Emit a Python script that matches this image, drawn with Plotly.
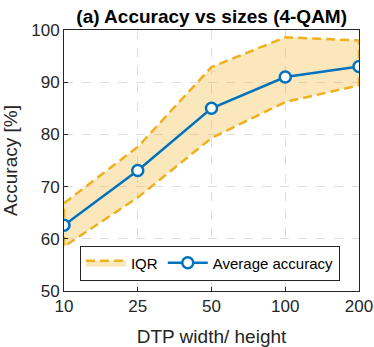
import plotly.graph_objects as go

# DTP sizes and accuracy stats
sizes = ["10", "25", "50", "100", "200"]
avg_acc = [62.6, 73.1, 85.0, 91.0, 93.0]
q75_acc = [66.8, 77.6, 92.9, 98.6, 98.0]
q25_acc = [58.5, 67.9, 79.3, 86.2, 89.4]

blue = "#0072BD"
orange = "#EDB120"
font_family = "Liberation Sans, Arial, sans-serif"

fig = go.Figure()

# IQR band as closed polygon
fig.add_trace(go.Scatter(
    x=sizes + sizes[::-1] + [sizes[0]],
    y=q75_acc + q25_acc[::-1] + [q75_acc[0]],
    fill="toself",
    fillcolor="rgba(237,177,32,0.3)",
    line=dict(color=orange, width=2.5, dash="9px,5px"),
    mode="lines",
    name="IQR",
))

fig.add_trace(go.Scatter(
    x=sizes,
    y=avg_acc,
    mode="lines+markers",
    line=dict(color=blue, width=2.5),
    marker=dict(size=11, color="white", line=dict(color=blue, width=2.5)),
    name="Average accuracy",
))

fig.update_layout(
    width=374,
    height=347,
    margin=dict(l=64, r=15, t=30, b=56),
    paper_bgcolor="white",
    plot_bgcolor="white",
    title=dict(
        text="<b>(a) Accuracy vs sizes (4-QAM)</b>",
        x=0.566, xanchor="center", y=0.952, yanchor="middle",
        font=dict(family=font_family, size=19, color="black"),
    ),
    font=dict(family=font_family, size=17, color="#262626"),
    legend=dict(
        orientation="h",
        x=0.054, xanchor="left",
        y=0.04, yanchor="bottom",
        bgcolor="white",
        bordercolor="#262626",
        borderwidth=1,
        font=dict(size=15, color="black"),
        itemwidth=40,
        tracegroupgap=0,
    ),
)

fig.update_xaxes(
    type="category",
    range=[0, 4],
    title=dict(text="DTP width/ height", font=dict(size=19)),
    automargin=False,
    showgrid=True, gridcolor="#DEDEDE", griddash="dash",
    showline=True, linecolor="#262626", linewidth=1, mirror=True,
    ticks="inside", ticklen=4, tickcolor="#262626",
    zeroline=False,
)
fig.update_yaxes(
    range=[50, 100],
    tickvals=[50, 60, 70, 80, 90, 100],
    title=dict(text="Accuracy [%]", font=dict(size=19)),
    automargin=False,
    showgrid=True, gridcolor="#DEDEDE", griddash="dash",
    showline=True, linecolor="#262626", linewidth=1, mirror=True,
    ticks="inside", ticklen=4, tickcolor="#262626",
    zeroline=False,
)

# drop the default body margin so the figure fills the window
fig.write_html(
    "out.html",
    config={"displayModeBar": False},
    post_script="document.body.style.margin='0';",
)
